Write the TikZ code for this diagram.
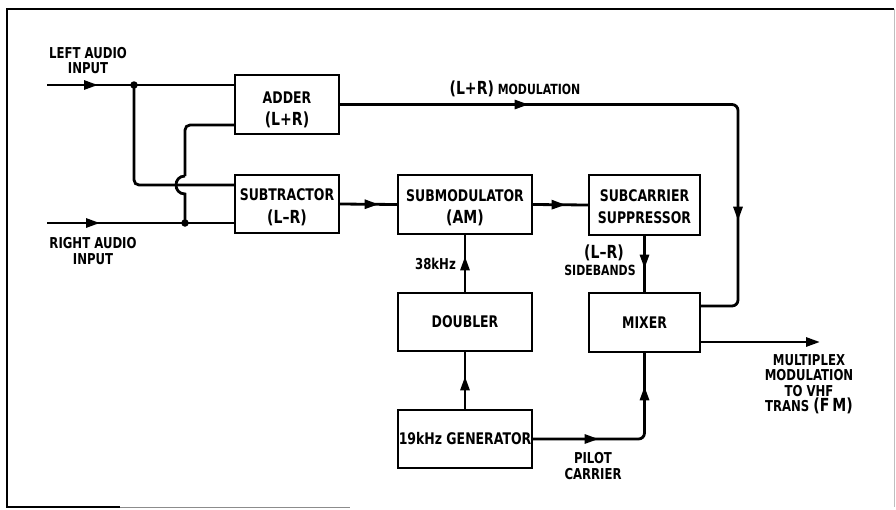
\documentclass[tikz,border=0pt]{standalone}
\usepackage{fontspec}
\setmainfont{DejaVu Sans}[FakeStretch=0.78]
\usetikzlibrary{arrows.meta,decorations.markings,calc}
\newcommand\bxf{\fontsize{16}{22.5}\selectfont\bfseries}
\newcommand\bigp{\fontsize{18}{22.5}\selectfont\bfseries}
\newcommand\lblf{\fontsize{15}{15.5}\selectfont\bfseries}
\newcommand\smf{\fontsize{14}{15.5}\selectfont\bfseries}
\begin{document}
\begin{tikzpicture}[x=1pt,y=-1pt,
  box/.style={draw, line width=1.3pt, inner sep=0pt, align=center, font=\bxf},
  conn/.style={line width=2.8pt},
  marr/.style={postaction={decorate,decoration={markings,mark=at position #1 with {\arrow{Triangle[length=14pt,width=9pt]}}}}},
  jdot/.style={circle, fill, inner sep=0pt, minimum size=7.5pt},
  lbl/.style={align=center, inner sep=0pt, font=\lblf}]
\useasboundingbox (0,0) rectangle (896,509);
% frame
\draw[line width=1.6pt] (894,9) -- (7,9) -- (7,507) -- (120,507);
\draw[line width=1pt, black!45] (120,507) -- (350,507);
\draw[line width=0.6pt, black!25] (894,9) -- (894,507);
% boxes
\node[box, text height=45pt, minimum width=104pt, minimum height=59pt] (adder) at (287,104.5) {ADDER\\{\bigp(L+R)}};
\node[box, text height=41pt, minimum width=104pt, minimum height=58pt] (sub) at (287,204) {SUBTRACTOR\\{\bigp(L--R)}};
\node[box, text height=41pt, minimum width=134pt, minimum height=59pt] (submod) at (465,204.5) {SUBMODULATOR\\{\bigp(AM)}};
\node[box, text height=38pt, minimum width=111pt, minimum height=60pt] (subcar) at (644.5,205) {SUBCARRIER\\SUPPRESSOR};
\node[box, minimum width=134pt, minimum height=58pt] (doubler) at (465,322) {DOUBLER};
\node[box, minimum width=111pt, minimum height=59pt] (mixer) at (644.5,322.5) {MIXER};
\node[box, minimum width=134pt, minimum height=58pt] (gen) at (465,439) {19kHz GENERATOR};
% coordinates
\coordinate (lin) at (47,85);
\coordinate (jL) at (134,85);
\coordinate (rin) at (47,223);
\coordinate (jR) at (185,223);
\coordinate (hopB) at (185,194);
\coordinate (hopT) at (185,176);
\coordinate (outEnd) at (820,342);
% connectors
\draw[conn, marr=51pt] (lin) -- (lin -| adder.west);
\draw[conn, rounded corners=5pt] (jL) |- (sub.west |- 0,185);
\draw[conn, marr=53pt] (rin) -- (rin -| sub.west);
\draw[conn] (jR) -- (hopB) .. controls +(-12,0) and +(-12,0) .. (hopT);
\draw[conn, rounded corners=5pt] (hopT) |- (adder.west |- 0,125);
\node[jdot] (dL) at (jL) {};
\node[jdot] (dR) at (jR) {};
\draw[conn, rounded corners=6pt, marr=189pt, marr=512pt] (adder.east) -- (adder.east -| 738,0) |- (mixer.east |- 0,306);
\draw[conn, marr=39pt] (sub.east) -- (submod.west);
\draw[conn, marr=33pt] (submod.east) -- (subcar.west);
\draw[conn, marr=33pt] (subcar.south) -- (mixer.north);
\draw[conn, marr=36pt] (doubler.north) -- (submod.south);
\draw[conn, marr=33pt] (gen.north) -- (doubler.south);
\draw[conn, rounded corners=6pt, marr=66pt, marr=162pt] (gen.east) -| (mixer.south);
\draw[conn, -{Triangle[length=14pt,width=9pt]}] (mixer.east |- 0,342) -- (outEnd);
% labels
\node[lbl] (tLeft) at (88,60.5) {LEFT AUDIO\\INPUT};
\node[lbl] (tRight) at (93,251) {RIGHT AUDIO\\INPUT};
\node[lbl, anchor=base, font=\smf] (tMod) at (515,94) {{\bigp(L+R)} MODULATION};
\node[lbl, anchor=east] (t38) at (456,263.5) {38kHz};
\node[lbl] (tLR) at (604,253) {\bigp(L--R)};
\node[lbl, font=\smf] (tSide) at (600,270) {SIDEBANDS};
\node[lbl] (tPilot) at (593,466) {PILOT\\[1pt]CARRIER};
\node[lbl] (tOut) at (809,384) {MULTIPLEX\\MODULATION\\TO VHF\\TRANS {\bigp(F\,M)}};
\end{tikzpicture}
\end{document}
